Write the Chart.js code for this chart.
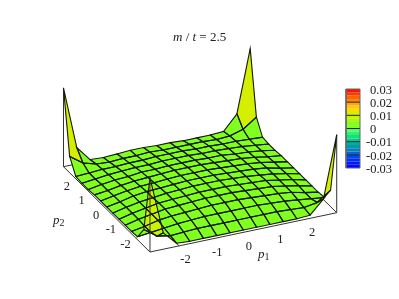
<!DOCTYPE html>
<html>
<head>
<meta charset="utf-8">
<style>
html, body { margin: 0; padding: 0; background: #fff; }
#wrap { position: relative; width: 399px; height: 299px; }
</style>
<script src="https://cdn.jsdelivr.net/npm/chart.js@4/dist/chart.umd.min.js"></script>
</head>
<body>
<div id="wrap"><canvas id="surf" width="399" height="299"></canvas></div>
<script>
// ================= DATA =================
let p1Ticks = [-2, -1, 0, 1, 2];
let p2Ticks = [-2, -1, 0, 1, 2];
let barTicks = [0.03, 0.02, 0.01, 0, -0.01, -0.02, -0.03];

let p1Grid = [-2.95, -2.53, -2.11, -1.69, -1.26, -0.84, -0.42, 0, 0.42, 0.84, 1.26, 1.69, 2.11, 2.53, 2.95];
let p2Grid = [-2.95, -2.53, -2.11, -1.69, -1.26, -0.84, -0.42, 0, 0.42, 0.84, 1.26, 1.69, 2.11, 2.53, 2.95];

// surface height, one row per p2Grid value, one column per p1Grid value
let height = [
[.0095,.0021,.0004,.0003,.0003,.0003,.0003,.0003,.0003,.0003,.0003,.0003,.0004,.0021,.0100],
[.0021,.0009,.0006,.0007,.0008,.0008,.0008,.0008,.0008,.0008,.0008,.0007,.0006,.0009,.0021],
[.0004,.0006,.0008,.0010,.0011,.0012,.0012,.0012,.0012,.0012,.0011,.0010,.0008,.0006,.0004],
[.0003,.0006,.0010,.0012,.0013,.0014,.0015,.0015,.0015,.0014,.0013,.0012,.0010,.0006,.0003],
[.0003,.0007,.0010,.0013,.0014,.0015,.0016,.0016,.0016,.0015,.0014,.0013,.0010,.0007,.0003],
[.0003,.0007,.0010,.0013,.0014,.0015,.0016,.0016,.0016,.0015,.0014,.0013,.0010,.0007,.0003],
[.0003,.0007,.0010,.0012,.0014,.0015,.0016,.0016,.0016,.0015,.0014,.0012,.0010,.0007,.0003],
[.0003,.0006,.0010,.0012,.0013,.0014,.0015,.0015,.0015,.0014,.0013,.0012,.0010,.0006,.0003],
[.0003,.0006,.0009,.0011,.0012,.0013,.0014,.0014,.0014,.0013,.0012,.0011,.0009,.0006,.0003],
[.0003,.0005,.0008,.0010,.0011,.0012,.0013,.0013,.0013,.0012,.0011,.0010,.0008,.0005,.0003],
[.0002,.0005,.0007,.0008,.0010,.0010,.0011,.0011,.0011,.0010,.0010,.0008,.0007,.0005,.0002],
[.0002,.0004,.0006,.0007,.0008,.0008,.0009,.0009,.0009,.0008,.0008,.0007,.0006,.0004,.0002],
[.0003,.0004,.0005,.0005,.0006,.0006,.0007,.0007,.0007,.0006,.0006,.0005,.0005,.0004,.0003],
[.0021,.0009,.0004,.0003,.0004,.0004,.0005,.0004,.0004,.0004,.0004,.0003,.0004,.0009,.0021],
[.0101,.0021,.0002,.0001,.0002,.0003,.0003,.0002,.0002,.0001,.0001,.0001,.0002,.0021,.0101]
];

// colour of each band of the colour bar, from -0.03 up to 0.03
let barColors = [
"#0008ff","#0018ff","#0030f8","#0048f0","#0068d8","#0080c0","#0098a8","#00b098",
"#00c890","#10e080","#30f070","#58ff50","#80ff20","#80ff20","#a8fa10","#c8f400",
"#d4f000","#f4e000","#ffc800","#ffa800","#ff8800","#ff6400","#ff3c00","#ff1400"
];

// ================= PROJECTION =================
// view is orthographic, the numbers come from the box corners on the page
const origin = { x: 200.1, y: 189.7 };
const unitP1 = { x: 31.65, y: -6.66 };
const unitP2 = { x: -14.66, y: -14.46 };
const unitZ = 7800;
const P_MIN = p1Grid[0];
const P_MAX = p1Grid[p1Grid.length - 1];

function project(p1, p2, z) {
    return {
        x: origin.x + unitP1.x * p1 + unitP2.x * p2,
        y: origin.y + unitP1.y * p1 + unitP2.y * p2 - z * unitZ
    };
}

function cellColor(v) {
    let band = Math.floor((v + 0.03) / 0.06 * barColors.length);
    return barColors[Math.max(0, Math.min(barColors.length - 1, band))];
}

// ================= DATASETS =================
// pushed in painting order, reversed at the end because Chart.js paints the last dataset first
let datasets = [];
let lastRow = height.length - 1;
let lastCol = height[0].length - 1;

function addLine(points, color, width) {
    datasets.push({
        data: points,
        borderColor: color,
        borderWidth: width,
        pointRadius: 0,
        fill: false,
        tension: 0
    });
}

function addPolygon(points, color) {
    datasets.push({
        data: points,
        borderColor: "transparent",
        borderWidth: 0,
        backgroundColor: color,
        pointRadius: 0,
        fill: "shape",
        tension: 0
    });
}

// box behind the surface
addLine([project(P_MIN, P_MAX, 0), project(P_MAX, P_MAX, 0), project(P_MAX, P_MIN, 0)], "#333", 1);
addLine([project(P_MIN, P_MAX, 0), project(P_MIN, P_MAX, height[lastRow][0])], "#333", 1);
addLine([project(P_MAX, P_MAX, 0), project(P_MAX, P_MAX, height[lastRow][lastCol])], "#333", 1);
addLine([project(P_MAX, P_MIN, 0), project(P_MAX, P_MIN, height[0][lastCol])], "#333", 1);
addLine([project(P_MIN, P_MAX, 0), project(P_MIN, P_MIN, 0), project(P_MAX, P_MIN, 0)], "#333", 1);

// cells from the back corner to the front, fills first and all the mesh lines over them
let cells = [];
for (let j = 0; j < lastRow; j++) {
    for (let i = 0; i < lastCol; i++) {
        cells.push({ i, j, depth: p1Grid[i] + p2Grid[j] });
    }
}
cells.sort((a, b) => b.depth - a.depth);

let outlines = [];
cells.forEach(c => {
    let v = [height[c.j][c.i], height[c.j][c.i + 1], height[c.j + 1][c.i + 1], height[c.j + 1][c.i]];
    let a = project(p1Grid[c.i], p2Grid[c.j], v[0]);
    let b = project(p1Grid[c.i + 1], p2Grid[c.j], v[1]);
    let d = project(p1Grid[c.i + 1], p2Grid[c.j + 1], v[2]);
    let e = project(p1Grid[c.i], p2Grid[c.j + 1], v[3]);
    addPolygon([a, b, d, e, a], cellColor(Math.max(...v)));
    outlines.push([a, b, d, e, a]);
});
outlines.forEach(o => addLine(o, "#151a05", 1.1));

// front edge of the box stays over the mesh
addLine([project(P_MIN, P_MIN, 0), project(P_MIN, P_MIN, height[0][0])], "#333", 1);

// colour bar, drawn on its own value scale
let bandSize = 0.06 / barColors.length;
barColors.forEach((c, k) => {
    let lo = -0.03 + k * bandSize;
    datasets.push({
        yAxisID: "yBar",
        data: [{ x: 346, y: lo }, { x: 360, y: lo }, { x: 360, y: lo + bandSize }, { x: 346, y: lo + bandSize }, { x: 346, y: lo }],
        borderColor: "transparent",
        borderWidth: 0,
        backgroundColor: c,
        pointRadius: 0,
        fill: "shape",
        tension: 0
    });
});
barTicks.slice(1, -1).forEach(t => {
    datasets.push({
        yAxisID: "yBar",
        data: [{ x: 346, y: t }, { x: 360, y: t }],
        borderColor: "#222",
        borderWidth: 1,
        pointRadius: 0,
        tension: 0
    });
});
datasets.push({
    yAxisID: "yBar",
    data: [{ x: 346, y: -0.03 }, { x: 360, y: -0.03 }, { x: 360, y: 0.03 }, { x: 346, y: 0.03 }, { x: 346, y: -0.03 }],
    borderColor: "#666",
    borderWidth: 1,
    pointRadius: 0,
    tension: 0
});
datasets.reverse();

// ================= TEXT =================
const SERIF = '"Liberation Serif", serif';

function runs(ctx, x, y, parts) {
    ctx.textBaseline = "alphabetic";
    ctx.textAlign = "left";
    parts.forEach(p => {
        ctx.font = (p.italic ? "italic " : "") + (p.size || 13) + "px " + SERIF;
        ctx.fillText(p.text, x, y + (p.dy || 0));
        x += ctx.measureText(p.text).width;
    });
}

let textPlugin = {
    id: "labels",
    afterDraw(chart) {
        let ctx = chart.ctx;
        ctx.save();
        ctx.fillStyle = "#222";
        runs(ctx, 173, 41, [
            { text: "m", italic: true }, { text: " / " }, { text: "t", italic: true }, { text: " = 2.5" }
        ]);
        runs(ctx, 258, 258, [{ text: "p", italic: true }, { text: "1", size: 10, dy: 2 }]);
        runs(ctx, 53, 224, [{ text: "p", italic: true }, { text: "2", size: 10, dy: 2 }]);

        ctx.font = "12.5px " + SERIF;
        ctx.textAlign = "center";
        ctx.textBaseline = "middle";
        p1Ticks.forEach(t => {
            let q = project(t, P_MIN, 0);
            ctx.fillText(String(t), q.x + 5.5, q.y + 14);
        });
        p2Ticks.forEach(t => {
            let q = project(P_MIN, t, 0);
            ctx.fillText(String(t), q.x - 10.5, q.y + 6);
        });
        ctx.textAlign = "left";
        let barScale = chart.scales.yBar;
        barTicks.forEach(t => {
            ctx.fillText(String(t), t < 0 ? 366 : 370, barScale.getPixelForValue(t) + 1.5);
        });
        ctx.restore();
    }
};

// ================= CHART =================
// the bar scale limits put -0.03 at y=168 and 0.03 at y=89 on the page
let perPx = 0.06 / 79;
new Chart(document.getElementById("surf"), {
    type: "scatter",
    data: { datasets: datasets },
    plugins: [textPlugin],
    options: {
        responsive: false,
        animation: false,
        layout: { padding: 0 },
        showLine: true,
        spanGaps: true,
        plugins: { legend: { display: false }, tooltip: { enabled: false } },
        datasets: { scatter: { showLine: true, clip: false } },
        scales: {
            x: { type: "linear", min: 0, max: 399, display: false },
            y: { type: "linear", min: 0, max: 299, reverse: true, display: false },
            yBar: { type: "linear", min: -0.03 - (299 - 168) * perPx, max: 0.03 + 89 * perPx, display: false }
        }
    }
});
</script>
</body>
</html>
